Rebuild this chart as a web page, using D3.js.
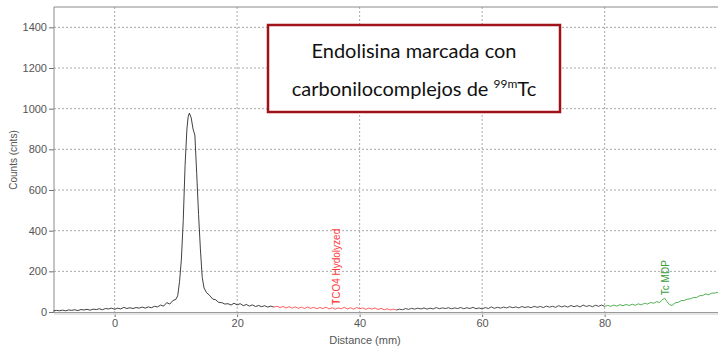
<!DOCTYPE html>
<html>
<head>
<meta charset="utf-8">
<script src="https://cdn.jsdelivr.net/npm/d3@7"></script>
<style>
  body { margin: 0; background: #fff; }
  svg { display: block; font-family: "Liberation Sans", Arial, sans-serif; }
</style>
</head>
<body>
<div id="chart"></div>
<script>
var width = 718,
  height = 351;

// trace segments [distance mm, counts]
var traceA = [[-10,5],[-9.5,8],[-9,6],[-8.5,9],[-8,6],[-7.5,10],[-7,8],[-6.5,11],[-6,7],[-5.5,12],[-5,10],[-4.5,13],[-4,9],[-3.5,14],[-3,12],[-2.5,16],[-2,11],[-1.5,17],[-1,15],[-0.5,19],[0,13],[0.5,19],[1,15],[1.5,23],[2,17],[2.5,21],[3,17],[3.5,22],[4,19],[4.5,24],[5,19],[5.5,25],[6,21],[6.5,28],[7,25],[7.5,34],[8,29],[8.5,46],[9,39],[9.5,56],[10,62],[10.3,80],[10.6,150],[10.9,260],[11.2,450],[11.5,720],[11.8,900],[12.0,960],[12.2,978],[12.5,955],[12.8,900],[13.1,870],[13.4,680],[13.7,480],[14.0,310],[14.3,170],[14.6,118],[15,95],[15.5,82],[16,64],[16.5,60],[17,47],[17.5,46],[18,39],[18.5,41],[19,34],[19.5,43],[20,35],[20.5,41],[21,31],[21.5,37],[22,29],[22.5,35],[23,27],[23.5,32],[24,26],[24.5,31],[25,24],[25.5,29],[26,24]];
var traceRed = [[26,24],[26.5,28],[27,22],[27.5,27],[28,20],[28.5,26],[29,19],[29.5,25],[30,18],[30.5,24],[31,17],[31.5,25],[32,18],[32.5,23],[33,16],[33.5,22],[34,17],[34.5,24],[35,15],[35.5,21],[36,14],[36.5,20],[37,16],[37.5,23],[38,15],[38.5,21],[39,14],[39.5,22],[40,16],[40.5,20],[41,13],[41.5,19],[42,14],[42.5,20],[43,12],[43.5,18],[44,11],[44.5,16],[45,10],[45.5,14],[46,10]];
var traceB = [[46,10],[46.5,14],[47,11],[47.5,17],[48,13],[48.5,18],[49,14],[49.5,19],[50,15],[50.5,20],[51,14],[51.5,19],[52,15],[52.5,22],[53,16],[53.5,20],[54,17],[54.5,21],[55,16],[55.5,20],[56,17],[56.5,22],[57,16],[57.5,21],[58,17],[58.5,23],[59,16],[59.5,20],[60,15],[60.5,22],[61,17],[61.5,25],[62,18],[62.5,23],[63,19],[63.5,24],[64,20],[64.5,26],[65,21],[65.5,25],[66,20],[66.5,27],[67,22],[67.5,26],[68,21],[68.5,28],[69,23],[69.5,27],[70,22],[70.5,29],[71,24],[71.5,28],[72,23],[72.5,31],[73,25],[73.5,30],[74,24],[74.5,32],[75,26],[75.5,31],[76,25],[76.5,34],[77,27],[77.5,32],[78,26],[78.5,33],[79,28],[79.5,34],[80,28]];
var traceGreen = [[80,28],[80.5,32],[81,28],[81.5,34],[82,29],[82.5,36],[83,31],[83.5,37],[84,32],[84.5,38],[85,33],[85.5,40],[86,35],[86.5,43],[87,39],[87.5,47],[88,43],[88.5,51],[89,47],[89.4,60],[89.8,68],[90.2,50],[90.6,36],[91,32],[91.5,45],[92,47],[92.5,56],[93,57],[93.5,63],[94,65],[94.5,71],[95,71],[95.5,80],[96,81],[96.5,89],[97,85],[97.5,93],[98,93],[98.5,97],[99,95]];

var xTicks = [0, 20, 40, 60, 80];
var yTicks = [0, 200, 400, 600, 800, 1000, 1200, 1400];

var peakLabels = [
  { name: "TCO4 Hydolyzed", at: 36.1, counts: 20, color: "#ff3b3b" },
  { name: "Tc MDP", at: 89.8, counts: 68, color: "#3a9e3a" }
];

var svg = d3.select("#chart")
  .append("svg")
  .attr("width", width)
  .attr("height", height);

var x = d3.scaleLinear().domain([-9.9, 99]).range([54, 721]);
var y = d3.scaleLinear().domain([0, 1500]).range([312, 7]);

// grid
svg.append("g").selectAll("line")
  .data(xTicks)
  .enter().append("line")
  .attr("x1", d => x(d)).attr("x2", d => x(d))
  .attr("y1", 7).attr("y2", 312)
  .attr("stroke", "#a8a8a8")
  .attr("stroke-dasharray", "2,2");

svg.append("g").selectAll("line")
  .data(yTicks.filter(d => d > 0))
  .enter().append("line")
  .attr("x1", 54).attr("x2", width)
  .attr("y1", d => y(d)).attr("y2", d => y(d))
  .attr("stroke", "#a8a8a8")
  .attr("stroke-dasharray", "2,2");

// axes
var yAxis = svg.append("g")
  .attr("transform", "translate(54,0)")
  .call(d3.axisLeft(y).tickValues(yTicks).tickFormat(d3.format("d")).tickSize(5).tickPadding(2));
var xAxis = svg.append("g")
  .attr("transform", "translate(0,312)")
  .call(d3.axisBottom(x).tickValues(xTicks).tickFormat(d3.format("d")).tickSize(5).tickPadding(2));

[yAxis, xAxis].forEach(function (g) {
  g.select(".domain").remove();
  g.selectAll("line").attr("stroke", "#707070");
  g.selectAll("text").attr("fill", "#555").style("font-size", "11px");
});

// frame
svg.append("line").attr("x1", 54).attr("x2", 54).attr("y1", 7).attr("y2", 313)
  .attr("stroke", "#8a8a8a");
svg.append("line").attr("x1", 54).attr("x2", width).attr("y1", 7).attr("y2", 7)
  .attr("stroke", "#8a8a8a");
svg.append("line").attr("x1", 54).attr("x2", width).attr("y1", 312.5).attr("y2", 312.5)
  .attr("stroke", "#9a9a9a").attr("stroke-width", 1);
svg.append("line").attr("x1", 54).attr("x2", width).attr("y1", 314).attr("y2", 314)
  .attr("stroke", "#dcdcdc").attr("stroke-width", 1.5);

// traces
var line = d3.line().x(d => x(d[0])).y(d => y(d[1]));
var traces = [
  { data: traceA, color: "#2b2b2b" },
  { data: traceRed, color: "#ff4a4a" },
  { data: traceB, color: "#3a3a3a" },
  { data: traceGreen, color: "#3fa53f" }
];
svg.append("g").selectAll("path")
  .data(traces)
  .enter().append("path")
  .attr("d", d => line(d.data))
  .attr("fill", "none")
  .attr("stroke", d => d.color)
  .attr("stroke-width", 0.9);

// peak labels, sitting just above the trace
svg.append("g").selectAll("text")
  .data(peakLabels)
  .enter().append("text")
  .attr("transform", d => "translate(" + (x(d.at) + 4) + "," + (y(d.counts) - 3) + ") rotate(-90)")
  .attr("fill", d => d.color)
  .style("font-size", "10px")
  .text(d => d.name);

svg.append("path")
  .attr("d", "M" + (x(36.1) - 3) + ",300 v3 M" + (x(36.1) - 3) + ",301.5 h6")
  .attr("stroke", "#ff4a4a").attr("fill", "none");

// axis titles
svg.append("text")
  .attr("transform", "translate(17,160) rotate(-90)")
  .attr("text-anchor", "middle")
  .attr("fill", "#555")
  .style("font-size", "10px")
  .text("Counts (cnts)");

svg.append("text")
  .attr("x", 365).attr("y", 344)
  .attr("text-anchor", "middle")
  .attr("fill", "#555")
  .style("font-size", "11px")
  .text("Distance (mm)");

// title box
svg.append("rect")
  .attr("x", 268).attr("y", 25)
  .attr("width", 292).attr("height", 87)
  .attr("fill", "#fff")
  .attr("stroke", "#a0121a")
  .attr("stroke-width", 2.5);

var title = svg.append("g")
  .style("font-family", "Lato, 'Open Sans', sans-serif")
  .style("font-size", "20px")
  .attr("fill", "#111")
  .attr("text-anchor", "middle");
title.append("text").attr("x", 414).attr("y", 58).text("Endolisina marcada con");
var t2 = title.append("text").attr("x", 414).attr("y", 96);
t2.append("tspan").text("carbonilocomplejos de ");
t2.append("tspan").attr("dy", -8).style("font-size", "12px").text("99m");
t2.append("tspan").attr("dy", 8).text("Tc");
</script>
</body>
</html>
